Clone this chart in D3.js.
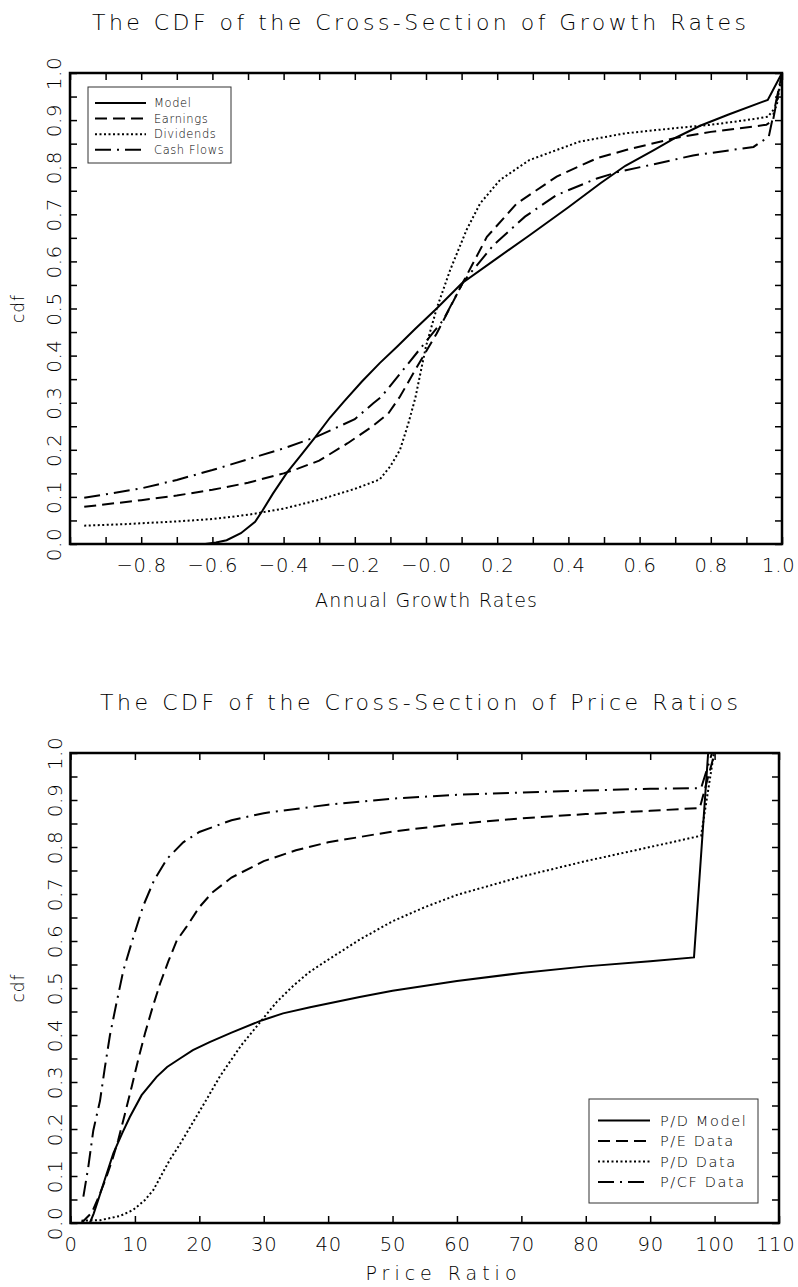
<!DOCTYPE html>
<html>
<head>
<meta charset="utf-8">
<script src="https://cdn.jsdelivr.net/npm/d3@7"></script>
<style>
  body { margin: 0; background: #fff; }
  svg text { font-family: "DejaVu Sans", sans-serif; font-weight: 300; fill: #000; }
</style>
</head>
<body>
<svg id="chart" width="798" height="1287"></svg>
<script>
// ---- growth rates panel: [annual growth rate, cdf]
var growthModel = [[-0.96,0],[-0.8,0],[-0.7,0],[-0.62,0],[-0.59,0.003],[-0.56,0.008],[-0.52,0.023],
  [-0.48,0.047],[-0.46,0.07],[-0.43,0.107],[-0.39,0.152],[-0.35,0.19],[-0.31,0.228],[-0.27,0.268],
  [-0.23,0.303],[-0.18,0.345],[-0.13,0.384],[-0.08,0.42],[-0.03,0.457],[0.03,0.5],[0.1,0.553],
  [0.2,0.607],[0.29,0.655],[0.4,0.715],[0.49,0.766],[0.56,0.803],[0.64,0.836],[0.7,0.862],
  [0.77,0.888],[0.85,0.912],[0.96,0.943],[1.0,1.0]];
var growthEarnings = [[-0.96,0.079],[-0.8,0.093],[-0.7,0.103],[-0.6,0.115],[-0.5,0.13],[-0.4,0.15],
  [-0.36,0.16],[-0.3,0.177],[-0.22,0.214],[-0.15,0.25],[-0.106,0.277],[-0.073,0.313],[-0.03,0.37],
  [0.03,0.447],[0.105,0.557],[0.171,0.652],[0.255,0.723],[0.367,0.78],[0.48,0.819],[0.564,0.837],
  [0.7,0.862],[0.8,0.875],[0.956,0.89],[0.975,0.9],[1.0,1.0]];
var growthDividends = [[-0.96,0.039],[-0.85,0.042],[-0.7,0.048],[-0.6,0.053],[-0.5,0.062],[-0.4,0.075],
  [-0.3,0.094],[-0.2,0.117],[-0.13,0.137],[-0.1,0.165],[-0.073,0.2],[-0.05,0.255],[-0.03,0.31],
  [0.0,0.42],[0.03,0.5],[0.068,0.582],[0.114,0.667],[0.152,0.723],[0.208,0.773],[0.29,0.815],
  [0.43,0.854],[0.56,0.872],[0.7,0.883],[0.8,0.89],[0.9,0.9],[0.96,0.907],[0.985,0.93],[1.0,1.0]];
var growthCashFlows = [[-0.96,0.098],[-0.8,0.118],[-0.7,0.136],[-0.6,0.157],[-0.5,0.18],[-0.4,0.203],
  [-0.307,0.228],[-0.2,0.265],[-0.148,0.299],[-0.125,0.313],[-0.05,0.383],[0.0,0.43],[0.049,0.476],
  [0.105,0.557],[0.19,0.635],[0.278,0.695],[0.367,0.741],[0.48,0.776],[0.54,0.79],[0.65,0.808],
  [0.75,0.825],[0.92,0.843],[0.963,0.865],[1.0,1.0]];
var growthNames = ["Model", "Earnings", "Dividends", "Cash Flows"];

// ---- price ratio panel: [price ratio, cdf]
var ratioPDModel = [[3.0,0],[3.6,0.02],[4.3,0.049],[5.5,0.1],[6.65,0.148],[8,0.19],[9.23,0.226],
  [11.04,0.272],[13.37,0.311],[15,0.332],[17,0.35],[19,0.368],[21.6,0.385],[25,0.405],[29.66,0.431],
  [33,0.446],[37.2,0.459],[44.9,0.481],[50,0.494],[60,0.515],[70,0.532],[80,0.546],[90,0.557],
  [96.8,0.565],[99,1.0]];
var ratioPEData = [[1.7,0],[3.3,0.022],[4.5,0.06],[5.5,0.095],[6.5,0.135],[7.4,0.176],[8.5,0.235],
  [9.5,0.29],[10.5,0.347],[11.56,0.403],[12.7,0.457],[13.9,0.509],[15.2,0.557],[16.5,0.601],[18,0.63],
  [20,0.672],[22,0.703],[25,0.735],[30,0.77],[35,0.793],[40,0.81],[50,0.833],[60,0.849],[70,0.861],
  [80,0.87],[90,0.877],[97.7,0.883],[100,1.0]];
var ratioPDData = [[1.7,0.005],[4.6,0.006],[7.7,0.015],[9.75,0.028],[11.56,0.049],[12.85,0.07],
  [15.4,0.134],[17,0.168],[19.05,0.215],[21,0.26],[23.2,0.312],[26.5,0.378],[29.66,0.431],[32,0.47],
  [34.6,0.505],[37,0.533],[39.75,0.558],[44.9,0.603],[50,0.642],[55,0.672],[60,0.698],[70,0.737],
  [80,0.77],[90,0.8],[97.9,0.824],[99.9,1.0]];
var ratioPCFData = [[2.0,0.056],[2.77,0.12],[3.54,0.197],[4.58,0.26],[5.35,0.332],[6.13,0.4],
  [7.17,0.47],[8.2,0.537],[9.75,0.608],[11.3,0.675],[13,0.73],[15,0.775],[17.5,0.81],[20,0.832],
  [25,0.857],[30,0.872],[40,0.89],[50,0.903],[60,0.911],[70,0.916],[80,0.92],[90,0.924],
  [97.9,0.925],[99.6,1.0]];
var ratioNames = ["P/D Model", "P/E Data", "P/D Data", "P/CF Data"];

var dashes = [null, "12,6", "2,2.5", "16,6,2,6"];

var svg = d3.select("#chart");
var W = 798;

function panel(o) {
  var g = svg.append("g");
  var x = d3.scaleLinear().domain(o.xDomain).range([o.left, o.right]);
  var y = d3.scaleLinear().domain([0, 1]).range([o.bottom, o.top]);
  var yTicks = d3.range(0, 21).map(function (i) { return i / 20; });
  var yFmt = function (v) { return Math.round(v * 20) % 2 === 0 ? d3.format(".1f")(v) : ""; };

  function clean(sel) {
    sel.attr("font-size", null).attr("font-family", null);
    sel.select(".domain").remove();
    sel.selectAll(".tick line").attr("stroke", "#000").attr("stroke-width", 1.5);
  }

  // left axis, labels rotated
  var left = g.append("g").attr("transform", "translate(" + o.left + ",0)")
    .call(d3.axisLeft(y).tickValues(yTicks).tickSizeInner(-7).tickSizeOuter(0).tickFormat(yFmt));
  clean(left);
  left.selectAll("text").attr("x", null).attr("dy", null)
    .attr("text-anchor", "middle").attr("dominant-baseline", "central")
    .attr("transform", "translate(-16,0) rotate(-90)")
    .style("font-size", "20px").style("letter-spacing", "0.5px");

  var right = g.append("g").attr("transform", "translate(" + o.right + ",0)")
    .call(d3.axisRight(y).tickValues(yTicks).tickSizeInner(-7).tickSizeOuter(0).tickFormat(""));
  clean(right);

  var bottom = g.append("g").attr("transform", "translate(0," + o.bottom + ")")
    .call(d3.axisBottom(x).tickValues(o.xTicks).tickSizeInner(-7).tickSizeOuter(0).tickFormat(o.xFmt));
  clean(bottom);
  bottom.selectAll("text").attr("y", 21).attr("dy", null)
    .attr("dominant-baseline", "central")
    .style("font-size", "19.5px").style("letter-spacing", "0.8px");
  // keep the last label inside the page
  bottom.selectAll(".tick").each(function (d) {
    var t = d3.select(this).select("text");
    var half = t.node().getComputedTextLength() / 2;
    var over = x(d) + half - (W - 3);
    if (over > 0) t.attr("x", -over);
  });

  var top = g.append("g").attr("transform", "translate(0," + o.top + ")")
    .call(d3.axisTop(x).tickValues(o.xTicks).tickSizeInner(-7).tickSizeOuter(0).tickFormat(""));
  clean(top);

  // curves
  var line = d3.line().x(function (d) { return x(d[0]); }).y(function (d) { return y(d[1]); });
  o.series.forEach(function (s, i) {
    g.append("path").datum(s).attr("d", line)
      .attr("fill", "none").attr("stroke", "#000").attr("stroke-width", 2)
      .attr("stroke-dasharray", dashes[i]);
  });

  // frame
  g.append("rect").attr("x", o.left).attr("y", o.top)
    .attr("width", o.right - o.left).attr("height", o.bottom - o.top)
    .attr("fill", "none").attr("stroke", "#000").attr("stroke-width", 2.5);

  // titles
  g.append("text").attr("x", o.titleX).attr("y", o.top - 51)
    .attr("text-anchor", "middle").attr("dominant-baseline", "central")
    .attr("textLength", o.titleLen).attr("lengthAdjust", "spacing")
    .style("font-size", "22px").text(o.title);
  g.append("text").attr("x", o.xLabelX).attr("y", o.bottom + o.xLabelDy)
    .attr("text-anchor", "middle").attr("dominant-baseline", "central")
    .attr("textLength", o.xLabelLen).attr("lengthAdjust", "spacing")
    .style("font-size", "19px").text(o.xLabel);
  g.append("text").attr("transform", "translate(18," + (o.top + o.bottom) / 2 + ") rotate(-90)")
    .attr("text-anchor", "middle").attr("dominant-baseline", "central")
    .style("font-size", "17px").style("letter-spacing", "1px").text("cdf");

  // legend
  var L = o.legend;
  g.append("rect").attr("x", L.x).attr("y", L.y).attr("width", L.w).attr("height", L.h)
    .attr("fill", "#fff").attr("stroke", "#333").attr("stroke-width", 1);
  o.names.forEach(function (n, i) {
    var yy = L.y + L.first + i * L.step;
    g.append("line").attr("x1", L.x + L.lx1).attr("x2", L.x + L.lx2).attr("y1", yy).attr("y2", yy)
      .attr("stroke", "#000").attr("stroke-width", 2).attr("stroke-dasharray", dashes[i]);
    g.append("text").attr("x", L.x + L.tx).attr("y", yy).attr("dominant-baseline", "central")
      .style("font-size", L.fs + "px").style("letter-spacing", L.ls + "px").text(n);
  });
}

panel({
  left: 70, right: 782, top: 73, bottom: 544,
  xDomain: [-1, 1],
  xTicks: d3.range(-10, 11).map(function (i) { return i / 10; }),
  xFmt: function (v) {
    var k = Math.round(v * 10);
    if (k === -10 || Math.abs(k) % 2 === 1) return "";
    return k === 0 ? "\u22120.0" : d3.format(".1f")(v);
  },
  series: [growthModel, growthEarnings, growthDividends, growthCashFlows],
  names: growthNames,
  title: "The CDF of the Cross-Section of Growth Rates", titleX: 419, titleLen: 654,
  xLabel: "Annual Growth Rates", xLabelX: 426, xLabelLen: 222, xLabelDy: 56,
  legend: { x: 88, y: 87, w: 143, h: 76, first: 16, step: 15.6, lx1: 7, lx2: 58, tx: 66, fs: 11.5, ls: 0.6 }
});

panel({
  left: 70.5, right: 779, top: 753, bottom: 1223,
  xDomain: [0, 110],
  xTicks: d3.range(0, 111, 10),
  xFmt: d3.format("d"),
  series: [ratioPDModel, ratioPEData, ratioPDData, ratioPCFData],
  names: ratioNames,
  title: "The CDF of the Cross-Section of Price Ratios", titleX: 419, titleLen: 638,
  xLabel: "Price Ratio", xLabelX: 441, xLabelLen: 151, xLabelDy: 50,
  legend: { x: 589, y: 1099, w: 169, h: 104, first: 21.5, step: 20.5, lx1: 9, lx2: 61, tx: 71, fs: 14.5, ls: 1.6 }
});
</script>
</body>
</html>
